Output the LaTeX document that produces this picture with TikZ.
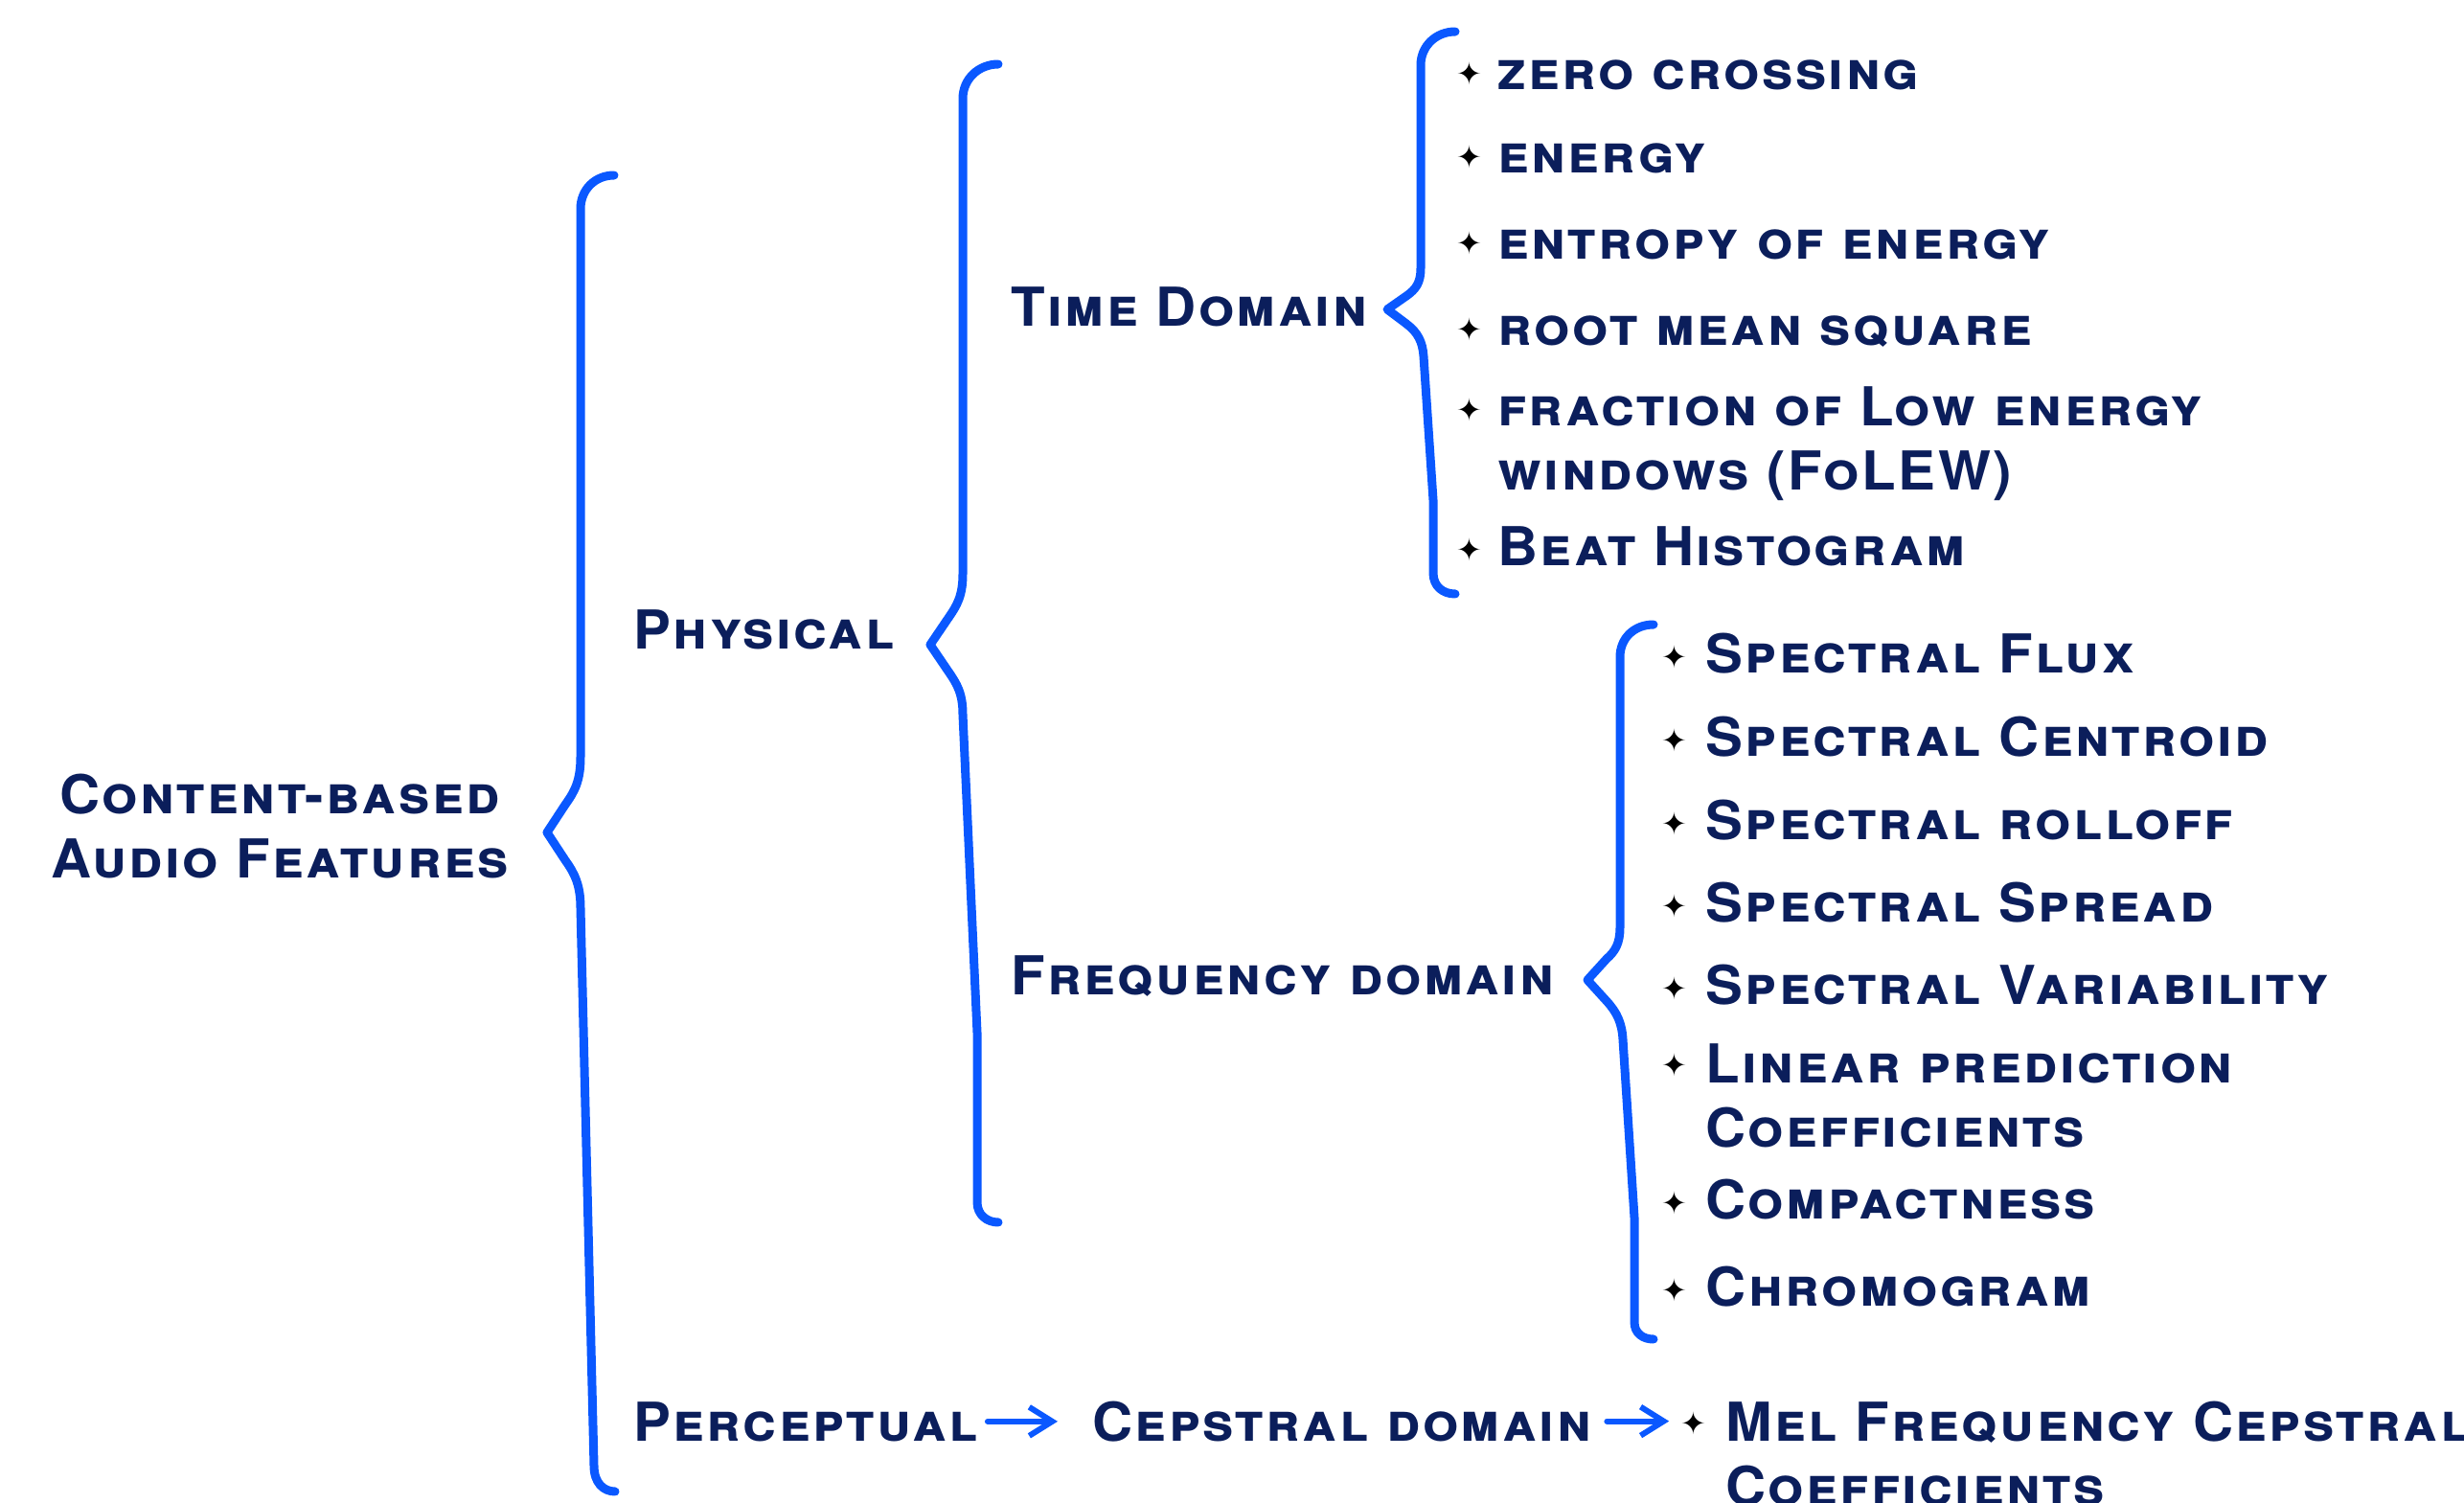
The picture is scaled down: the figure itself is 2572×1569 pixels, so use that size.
\documentclass[tikz,border=0pt]{standalone}
\usepackage{fontspec}
\usetikzlibrary{arrows.meta}
\newfontfamily\cpf{TeX Gyre Heros}[Letters=SmallCaps, LetterSpace=4.5, FakeStretch=1.04]
\newfontfamily\symf{DejaVu Sans}
\definecolor{navy}{HTML}{0B1E5B}
\definecolor{brblue}{HTML}{0A58FF}
\tikzset{
  lbl/.style={font=\cpf\bfseries\fontsize{28}{33.5}\selectfont, text=navy, inner sep=0pt, anchor=base west},
  bul/.style={font=\symf\bfseries\fontsize{16}{16}\selectfont, text=black, inner sep=0pt},
  brace/.style={draw=brblue, line width=4.5pt, line cap=round, line join=round},
  arr/.style={draw=brblue, line width=3pt, line cap=round, -{Straight Barb[length=12pt,width=15pt,line width=3pt]}}
}
\begin{document}
\begin{tikzpicture}[x=0.5pt, y=-0.5pt]
\useasboundingbox (0,0) rectangle (2572,1569);
% braces
\path[brace] (641,183) .. controls (621,183) and (606,198) .. (606,218) -- (606,790)
  .. controls (606,815) and (600,826) .. (590,840) -- (571,869) -- (590,898)
  .. controls (600,912) and (606,924) .. (606,948) -- (620,1530)
  .. controls (620,1548) and (630,1557) .. (642,1557);
\path[brace] (1042,67) .. controls (1022,67) and (1005,82) .. (1005,103) -- (1005,599)
  .. controls (1005,622) and (999,632) .. (990,645) -- (971,673) -- (990,701)
  .. controls (999,714) and (1005,724) .. (1005,746) -- (1020,1078) -- (1020,1255)
  .. controls (1020,1268) and (1030,1276) .. (1042,1276);
\path[brace] (1519,33) .. controls (1499,33) and (1483,48) .. (1483,68) -- (1483,280)
  .. controls (1483,295) and (1478,302) .. (1468,309) -- (1448,323) -- (1468,338)
  .. controls (1480,347) and (1485,357) .. (1486,372) -- (1496,522) -- (1496,598)
  .. controls (1496,612) and (1506,620) .. (1519,620);
\path[brace] (1726,652) .. controls (1706,652) and (1691,666) .. (1691,686) -- (1691,968)
  .. controls (1691,985) and (1686,993) .. (1677,1001) -- (1657,1023) -- (1677,1045)
  .. controls (1688,1057) and (1693,1068) .. (1694,1085) -- (1706,1271) -- (1706,1380)
  .. controls (1706,1392) and (1715,1398) .. (1726,1398);
% main labels (base anchor of a two-line node = baseline of its last line)
\node[lbl, anchor=base, align=center] (cab) at (292,916) {Content-based\\Audio Features};
\node[lbl] (phys) at (661,677) {Physical};
\node[lbl] (time) at (1055,340) {Time Domain};
\node[lbl] (freq) at (1055,1038) {Frequency domain};
\node[lbl] (perc) at (661,1504) {Perceptual};
\node[lbl] (ceps) at (1140,1504) {Cepstral domain};
\node[bul] (mb) at (1768,1486) {✦};
\node[lbl, align=left] (mel) at (1801,1571) {Mel Frequency Cepstral\\Coefficients};
% time domain items
\node[bul] (tb1) at (1534,77) {✦};
\node[bul] (tb2) at (1534,164) {✦};
\node[bul] (tb3) at (1534,254) {✦};
\node[bul] (tb4) at (1534,344) {✦};
\node[bul] (tb5) at (1534,428) {✦};
\node[bul] (tb6) at (1534,574) {✦};
\node[lbl] (t1) at (1563,93) {zero crossing};
\node[lbl] (t2) at (1563,180) {energy};
\node[lbl] (t3) at (1563,270) {entropy of energy};
\node[lbl] (t4) at (1563,360) {root mean square};
\node[lbl, align=left] (t5) at (1563,511) {fraction of Low energy\\windows (FoLEW)};
\node[lbl] (t6) at (1563,590) {Beat Histogram};
% frequency domain items
\node[bul] (fb1) at (1748,686) {✦};
\node[bul] (fb2) at (1748,773) {✦};
\node[bul] (fb3) at (1748,860) {✦};
\node[bul] (fb4) at (1748,946) {✦};
\node[bul] (fb5) at (1748,1032) {✦};
\node[bul] (fb6) at (1748,1112) {✦};
\node[bul] (fb7) at (1748,1256) {✦};
\node[bul] (fb8) at (1748,1347) {✦};
\node[lbl] (f1) at (1780,702) {Spectral Flux};
\node[lbl] (f2) at (1780,789) {Spectral Centroid};
\node[lbl] (f3) at (1780,876) {Spectral rolloff};
\node[lbl] (f4) at (1780,962) {Spectral Spread};
\node[lbl] (f5) at (1780,1048) {Spectral Variability};
\node[lbl, align=left] (f6) at (1780,1197) {Linear prediction\\Coefficients};
\node[lbl] (f7) at (1780,1272) {Compactness};
\node[lbl] (f8) at (1780,1363) {Chromogram};
% arrows
\draw[arr, shorten <=5pt, shorten >=18pt] (perc.east) -- (perc.east -| ceps.west);
\draw[arr, shorten <=8pt, shorten >=6pt] (ceps.east) -- (ceps.east -| mb.west);
\end{tikzpicture}
\end{document}
